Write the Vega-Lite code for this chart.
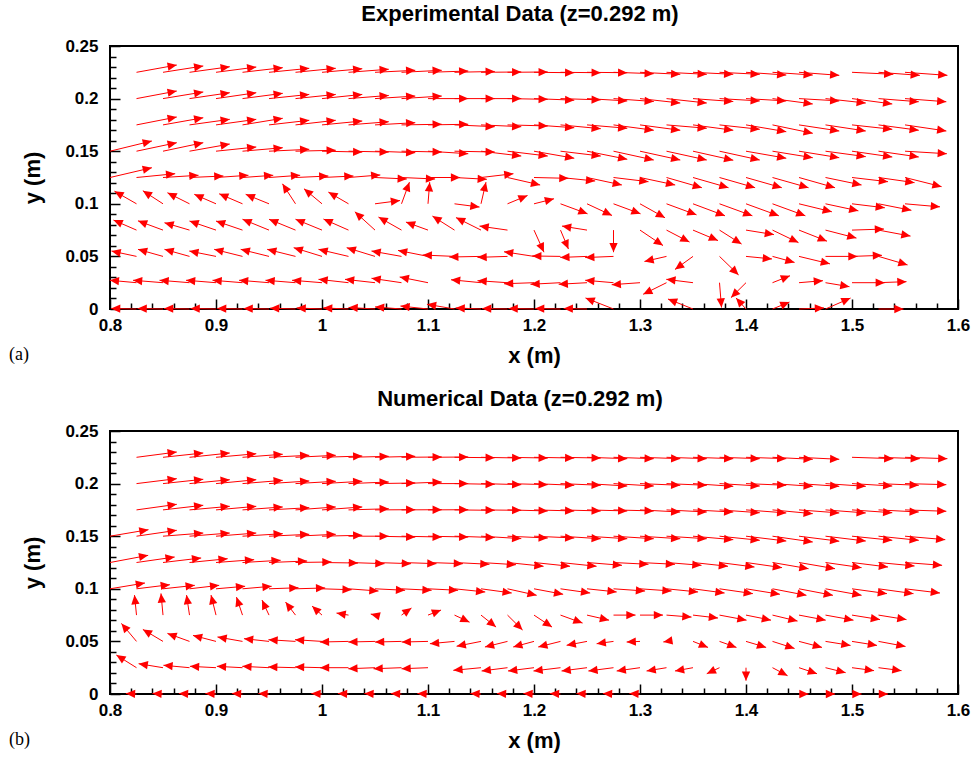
{
"$schema":"https://vega.github.io/schema/vega-lite/v6.json",
"background":"white",
"padding":{"left":8,"top":2,"right":8,"bottom":5},
"spacing":20,
"config":{
 "view":{"stroke":"black","strokeWidth":2},
 "axis":{"domain":false,"grid":false,"tickColor":"black","tickWidth":1.5,"labelFont":"Liberation Sans","labelFontWeight":"bold","labelFontSize":17,"labelColor":"black","titleFont":"Liberation Sans","titleFontWeight":"bold","titleFontSize":22,"titleColor":"black","labelFlush":false,"labelOverlap":false},
 "title":{"font":"Liberation Sans","fontWeight":"bold","fontSize":22,"color":"black"}
},
"datasets":{
"a":[
{"x":0.825,"y":0.225,"u":38,"v":6.9},{"x":0.85,"y":0.225,"u":38,"v":6},{"x":0.875,"y":0.225,"u":38,"v":5.3},{"x":0.9,"y":0.225,"u":38,"v":5},{"x":0.925,"y":0.225,"u":38,"v":4.4},{"x":0.95,"y":0.225,"u":38,"v":3.8},{"x":0.975,"y":0.225,"u":38,"v":3.8},{"x":1,"y":0.225,"u":38,"v":3.4},{"x":1.025,"y":0.225,"u":38,"v":2.9},{"x":1.05,"y":0.225,"u":38,"v":1.9},{"x":1.075,"y":0.225,"u":38,"v":1.9},{"x":1.1,"y":0.225,"u":38,"v":1.2},{"x":1.125,"y":0.225,"u":38,"v":0.8},{"x":1.15,"y":0.225,"u":38,"v":0.3},{"x":1.175,"y":0.225,"u":38,"v":0.3},{"x":1.2,"y":0.225,"u":38,"v":-0.4},{"x":1.225,"y":0.225,"u":38,"v":-0.4},{"x":1.25,"y":0.225,"u":38,"v":-0.4},{"x":1.275,"y":0.225,"u":38,"v":-1.3},{"x":1.3,"y":0.225,"u":38,"v":-1.9},{"x":1.325,"y":0.225,"u":38,"v":-1.9},{"x":1.35,"y":0.225,"u":38,"v":-1.9},{"x":1.375,"y":0.225,"u":38,"v":-1.9},{"x":1.4,"y":0.225,"u":38,"v":-2.6},{"x":1.425,"y":0.225,"u":38,"v":-2.6},{"x":1.45,"y":0.225,"u":38,"v":-2.9},{"x":1.5,"y":0.225,"u":39,"v":-1.9},{"x":1.525,"y":0.225,"u":39,"v":-2.9},{"x":1.55,"y":0.225,"u":40,"v":-2.9},
{"x":0.825,"y":0.2,"u":38,"v":7.2},{"x":0.85,"y":0.2,"u":38,"v":6.3},{"x":0.875,"y":0.2,"u":38,"v":5.6},{"x":0.9,"y":0.2,"u":38,"v":5.6},{"x":0.925,"y":0.2,"u":38,"v":5},{"x":0.95,"y":0.2,"u":38,"v":4},{"x":0.975,"y":0.2,"u":38,"v":4},{"x":1,"y":0.2,"u":38,"v":4},{"x":1.025,"y":0.2,"u":38,"v":3},{"x":1.05,"y":0.2,"u":38,"v":2.4},{"x":1.075,"y":0.2,"u":38,"v":2.4},{"x":1.1,"y":0.2,"u":38,"v":0},{"x":1.125,"y":0.2,"u":38,"v":0},{"x":1.15,"y":0.2,"u":38,"v":0},{"x":1.175,"y":0.2,"u":38,"v":-0.7},{"x":1.2,"y":0.2,"u":38,"v":-1.5},{"x":1.225,"y":0.2,"u":38,"v":-1.2},{"x":1.25,"y":0.2,"u":38,"v":-2.2},{"x":1.275,"y":0.2,"u":38,"v":-2.8},{"x":1.3,"y":0.2,"u":38,"v":-4.2},{"x":1.325,"y":0.2,"u":38,"v":-4.2},{"x":1.35,"y":0.2,"u":38,"v":-2.8},{"x":1.375,"y":0.2,"u":38,"v":-2.2},{"x":1.4,"y":0.2,"u":38,"v":-2.2},{"x":1.425,"y":0.2,"u":38,"v":-5.1},{"x":1.45,"y":0.2,"u":38,"v":-2.2},{"x":1.475,"y":0.2,"u":38,"v":-4.2},{"x":1.5,"y":0.2,"u":38,"v":-5.1},{"x":1.525,"y":0.2,"u":38,"v":-3},{"x":1.55,"y":0.2,"u":39,"v":-3},
{"x":0.825,"y":0.175,"u":38,"v":7.5},{"x":0.85,"y":0.175,"u":38,"v":6.8},{"x":0.875,"y":0.175,"u":38,"v":5.3},{"x":0.9,"y":0.175,"u":38,"v":5.3},{"x":0.925,"y":0.175,"u":38,"v":6.3},{"x":0.95,"y":0.175,"u":38,"v":4.4},{"x":0.975,"y":0.175,"u":38,"v":4.4},{"x":1,"y":0.175,"u":38,"v":3.7},{"x":1.025,"y":0.175,"u":38,"v":3},{"x":1.05,"y":0.175,"u":38,"v":2.1},{"x":1.075,"y":0.175,"u":38,"v":0.6},{"x":1.1,"y":0.175,"u":38,"v":0.6},{"x":1.125,"y":0.175,"u":38,"v":-1.7},{"x":1.15,"y":0.175,"u":38,"v":-1.7},{"x":1.175,"y":0.175,"u":38,"v":-1},{"x":1.2,"y":0.175,"u":38,"v":-2.7},{"x":1.225,"y":0.175,"u":38,"v":-3.6},{"x":1.25,"y":0.175,"u":38,"v":-3.2},{"x":1.275,"y":0.175,"u":38,"v":-5.1},{"x":1.3,"y":0.175,"u":38,"v":-5.1},{"x":1.325,"y":0.175,"u":38,"v":-3.2},{"x":1.35,"y":0.175,"u":38,"v":-5.1},{"x":1.375,"y":0.175,"u":38,"v":-4.2},{"x":1.4,"y":0.175,"u":38,"v":-6.5},{"x":1.425,"y":0.175,"u":38,"v":-8},{"x":1.45,"y":0.175,"u":38,"v":-5.8},{"x":1.475,"y":0.175,"u":38,"v":-5.8},{"x":1.5,"y":0.175,"u":38,"v":-4.2},{"x":1.525,"y":0.175,"u":38,"v":-5.1},{"x":1.55,"y":0.175,"u":39,"v":-5.8},
{"x":0.8,"y":0.15,"u":39.5,"v":9.7},{"x":0.825,"y":0.15,"u":38,"v":8.1},{"x":0.85,"y":0.15,"u":38,"v":8.1},{"x":0.875,"y":0.15,"u":38,"v":6.8},{"x":0.9,"y":0.15,"u":38,"v":4},{"x":0.925,"y":0.15,"u":38,"v":3.3},{"x":0.95,"y":0.15,"u":38,"v":1.8},{"x":0.975,"y":0.15,"u":38,"v":0.9},{"x":1,"y":0.15,"u":38,"v":-0.8},{"x":1.025,"y":0.15,"u":38,"v":-0.8},{"x":1.05,"y":0.15,"u":38,"v":-1.4},{"x":1.075,"y":0.15,"u":38,"v":-0.8},{"x":1.1,"y":0.15,"u":38,"v":-2.4},{"x":1.125,"y":0.15,"u":38,"v":-0.8},{"x":1.15,"y":0.15,"u":38,"v":-4.6},{"x":1.175,"y":0.15,"u":38,"v":-4.6},{"x":1.2,"y":0.15,"u":38,"v":-6.7},{"x":1.225,"y":0.15,"u":38,"v":-4.6},{"x":1.25,"y":0.15,"u":38,"v":-7.7},{"x":1.275,"y":0.15,"u":38,"v":-8.4},{"x":1.3,"y":0.15,"u":38,"v":-8.4},{"x":1.325,"y":0.15,"u":38,"v":-8.4},{"x":1.35,"y":0.15,"u":38,"v":-8.6},{"x":1.375,"y":0.15,"u":38,"v":-8.4},{"x":1.4,"y":0.15,"u":38,"v":-6.7},{"x":1.425,"y":0.15,"u":38,"v":-6.2},{"x":1.45,"y":0.15,"u":38,"v":-6.2},{"x":1.475,"y":0.15,"u":38,"v":-5.2},{"x":1.5,"y":0.15,"u":38,"v":-5.5},{"x":1.525,"y":0.15,"u":38,"v":-5.5},{"x":1.55,"y":0.15,"u":39.5,"v":-2.4},
{"x":0.8,"y":0.125,"u":39.5,"v":9.3},{"x":0.825,"y":0.125,"u":36.5,"v":3.6},{"x":0.85,"y":0.125,"u":33.5,"v":2.1},{"x":0.875,"y":0.125,"u":32,"v":1.4},{"x":0.9,"y":0.125,"u":30.6,"v":2.1},{"x":0.925,"y":0.125,"u":29,"v":2.1},{"x":0.95,"y":0.125,"u":29.4,"v":2.1},{"x":0.975,"y":0.125,"u":31,"v":1.4},{"x":1,"y":0.125,"u":29.7,"v":1.4},{"x":1.025,"y":0.125,"u":30,"v":2.4},{"x":1.05,"y":0.125,"u":30,"v":-1.4},{"x":1.075,"y":0.125,"u":31.7,"v":-1.4},{"x":1.1,"y":0.125,"u":30.3,"v":0},{"x":1.125,"y":0.125,"u":30.5,"v":-1.7},{"x":1.15,"y":0.125,"u":30.6,"v":3.6},{"x":1.175,"y":0.125,"u":30.8,"v":-7.1},{"x":1.2,"y":0.125,"u":32.5,"v":-0.8},{"x":1.225,"y":0.125,"u":32.7,"v":-3.3},{"x":1.25,"y":0.125,"u":32.9,"v":-7.1},{"x":1.275,"y":0.125,"u":33,"v":-4},{"x":1.3,"y":0.125,"u":33.2,"v":-7.1},{"x":1.325,"y":0.125,"u":33.4,"v":-9.7},{"x":1.35,"y":0.125,"u":33.5,"v":-9.7},{"x":1.375,"y":0.125,"u":33.6,"v":-9.7},{"x":1.4,"y":0.125,"u":33.8,"v":-9.7},{"x":1.425,"y":0.125,"u":34,"v":-9.7},{"x":1.45,"y":0.125,"u":34,"v":-9.7},{"x":1.475,"y":0.125,"u":34,"v":-7.1},{"x":1.5,"y":0.125,"u":34,"v":-4},{"x":1.525,"y":0.125,"u":34,"v":-4.9},{"x":1.55,"y":0.125,"u":34.5,"v":-8.7},
{"x":0.825,"y":0.1,"u":-20.8,"v":12},{"x":0.85,"y":0.1,"u":-19,"v":12.4},{"x":0.875,"y":0.1,"u":-20.8,"v":10.5},{"x":0.9,"y":0.1,"u":-20.5,"v":9},{"x":0.925,"y":0.1,"u":-22,"v":9.5},{"x":0.95,"y":0.1,"u":-22,"v":9},{"x":0.975,"y":0.1,"u":-12.3,"v":19},{"x":1,"y":0.1,"u":-17,"v":14.3},{"x":1.025,"y":0.1,"u":-19,"v":11.1},{"x":1.05,"y":0.1,"u":23.6,"v":3.1},{"x":1.075,"y":0.1,"u":7.5,"v":20.6},{"x":1.1,"y":0.1,"u":1.6,"v":20.6},{"x":1.125,"y":0.1,"u":23.6,"v":-3.1},{"x":1.15,"y":0.1,"u":4.7,"v":20.6},{"x":1.175,"y":0.1,"u":18.9,"v":7.9},{"x":1.2,"y":0.1,"u":18.9,"v":4.8},{"x":1.225,"y":0.1,"u":25.5,"v":-9.5},{"x":1.25,"y":0.1,"u":23.6,"v":-11.1},{"x":1.275,"y":0.1,"u":25.5,"v":-9.5},{"x":1.3,"y":0.1,"u":23.6,"v":-13.3},{"x":1.325,"y":0.1,"u":28.3,"v":-10.5},{"x":1.35,"y":0.1,"u":30.2,"v":-11.4},{"x":1.375,"y":0.1,"u":31,"v":-11.4},{"x":1.4,"y":0.1,"u":31,"v":-11.4},{"x":1.425,"y":0.1,"u":31,"v":-11.4},{"x":1.45,"y":0.1,"u":31,"v":-7.6},{"x":1.475,"y":0.1,"u":31,"v":-6.7},{"x":1.5,"y":0.1,"u":31,"v":-3.8},{"x":1.525,"y":0.1,"u":31,"v":-6.2},{"x":1.55,"y":0.1,"u":33,"v":-2.9},
{"x":0.825,"y":0.075,"u":-21.7,"v":9.5},{"x":0.85,"y":0.075,"u":-23.6,"v":8.8},{"x":0.875,"y":0.075,"u":-23.6,"v":7},{"x":0.9,"y":0.075,"u":-25,"v":8.6},{"x":0.925,"y":0.075,"u":-25,"v":8.6},{"x":0.95,"y":0.075,"u":-25,"v":10.3},{"x":0.975,"y":0.075,"u":-25,"v":10.3},{"x":1,"y":0.075,"u":-25,"v":10.3},{"x":1.025,"y":0.075,"u":-23.6,"v":10.5},{"x":1.05,"y":0.075,"u":-19,"v":17.4},{"x":1.075,"y":0.075,"u":-21.7,"v":12.4},{"x":1.1,"y":0.075,"u":-20.8,"v":7.6},{"x":1.125,"y":0.075,"u":-20.8,"v":13.3},{"x":1.15,"y":0.075,"u":-23.6,"v":11.9},{"x":1.175,"y":0.075,"u":-26.4,"v":3.8},{"x":1.2,"y":0.075,"u":9.4,"v":-21},{"x":1.225,"y":0.075,"u":7.5,"v":-18},{"x":1.25,"y":0.075,"u":-23.6,"v":3.8},{"x":1.275,"y":0.075,"u":0,"v":-21},{"x":1.3,"y":0.075,"u":21.7,"v":-14.7},{"x":1.325,"y":0.075,"u":21.7,"v":-11.4},{"x":1.35,"y":0.075,"u":23.6,"v":-10},{"x":1.375,"y":0.075,"u":20.8,"v":-13.3},{"x":1.4,"y":0.075,"u":26.4,"v":-4.3},{"x":1.425,"y":0.075,"u":24.5,"v":-11.9},{"x":1.45,"y":0.075,"u":26.4,"v":-10.5},{"x":1.475,"y":0.075,"u":29.2,"v":-7.6},{"x":1.5,"y":0.075,"u":30.2,"v":1},{"x":1.525,"y":0.075,"u":30.2,"v":-5.7},
{"x":0.825,"y":0.05,"u":-23.6,"v":5.1},{"x":0.85,"y":0.05,"u":-23.6,"v":6.7},{"x":0.875,"y":0.05,"u":-23.6,"v":6.7},{"x":0.9,"y":0.05,"u":-25.2,"v":5.1},{"x":0.925,"y":0.05,"u":-26.7,"v":6.7},{"x":0.95,"y":0.05,"u":-26.7,"v":6.7},{"x":0.975,"y":0.05,"u":-26.7,"v":6.7},{"x":1,"y":0.05,"u":-26.7,"v":8.3},{"x":1.025,"y":0.05,"u":-28.3,"v":6.7},{"x":1.05,"y":0.05,"u":-26.7,"v":8.3},{"x":1.075,"y":0.05,"u":-28.3,"v":5.1},{"x":1.1,"y":0.05,"u":-28.3,"v":5.7},{"x":1.125,"y":0.05,"u":-30,"v":1.3},{"x":1.15,"y":0.05,"u":-30,"v":-0.6},{"x":1.175,"y":0.05,"u":-28.3,"v":-0.9},{"x":1.2,"y":0.05,"u":-28.3,"v":4.4},{"x":1.225,"y":0.05,"u":-26.7,"v":0.4},{"x":1.25,"y":0.05,"u":-25.2,"v":-1},{"x":1.275,"y":0.05,"u":-26.7,"v":-1.1},{"x":1.325,"y":0.05,"u":-20.8,"v":-4.8},{"x":1.35,"y":0.05,"u":-17,"v":-12.4},{"x":1.375,"y":0.05,"u":18,"v":-17.6},{"x":1.4,"y":0.05,"u":24.5,"v":-2.4},{"x":1.425,"y":0.05,"u":20.8,"v":-5.7},{"x":1.45,"y":0.05,"u":29.2,"v":-7.1},{"x":1.475,"y":0.05,"u":30.2,"v":0},{"x":1.5,"y":0.05,"u":28.3,"v":1},{"x":1.525,"y":0.05,"u":27.4,"v":-8.1},
{"x":0.825,"y":0.025,"u":-25.2,"v":2.3},{"x":0.85,"y":0.025,"u":-28.3,"v":2.3},{"x":0.875,"y":0.025,"u":-28.3,"v":2.3},{"x":0.9,"y":0.025,"u":-28.3,"v":2.3},{"x":0.925,"y":0.025,"u":-28.3,"v":2.3},{"x":0.95,"y":0.025,"u":-28.3,"v":2.3},{"x":0.975,"y":0.025,"u":-28.3,"v":2.3},{"x":1,"y":0.025,"u":-28.3,"v":2.3},{"x":1.025,"y":0.025,"u":-28.3,"v":3.2},{"x":1.05,"y":0.025,"u":-28.3,"v":3.2},{"x":1.075,"y":0.025,"u":-28.3,"v":4.2},{"x":1.1,"y":0.025,"u":-26.7,"v":5.4},{"x":1.15,"y":0.025,"u":-28.3,"v":2.8},{"x":1.175,"y":0.025,"u":-28.3,"v":1.9},{"x":1.2,"y":0.025,"u":-28.3,"v":-1},{"x":1.225,"y":0.025,"u":-28.3,"v":-1.5},{"x":1.25,"y":0.025,"u":-26.7,"v":-1.5},{"x":1.275,"y":0.025,"u":-26.7,"v":2.3},{"x":1.3,"y":0.025,"u":-26.7,"v":-1.9},{"x":1.325,"y":0.025,"u":-22,"v":-11},{"x":1.35,"y":0.025,"u":-25.2,"v":3.2},{"x":1.375,"y":0.025,"u":1.9,"v":-23.6},{"x":1.4,"y":0.025,"u":-14.2,"v":-14.2},{"x":1.425,"y":0.025,"u":16.5,"v":6.6},{"x":1.45,"y":0.025,"u":22.6,"v":1.9},{"x":1.475,"y":0.025,"u":22.6,"v":-3.8},{"x":1.5,"y":0.025,"u":31,"v":0},{"x":1.525,"y":0.025,"u":26.4,"v":1},
{"x":0.825,"y":0,"u":-24,"v":0.5},{"x":0.85,"y":0,"u":-24,"v":0.5},{"x":0.875,"y":0,"u":-24,"v":0.5},{"x":0.9,"y":0,"u":-24,"v":0.5},{"x":0.925,"y":0,"u":-24,"v":0.5},{"x":0.95,"y":0,"u":-24,"v":0.5},{"x":0.975,"y":0,"u":-24,"v":0.8},{"x":1,"y":0,"u":-24,"v":1},{"x":1.025,"y":0,"u":-24,"v":1},{"x":1.05,"y":0,"u":-25,"v":1.5},{"x":1.075,"y":0,"u":-25,"v":2},{"x":1.1,"y":0,"u":-26,"v":2.8},{"x":1.125,"y":0,"u":-26,"v":4.5},{"x":1.15,"y":0,"u":-24,"v":1},{"x":1.175,"y":0,"u":-24,"v":0.5},{"x":1.2,"y":0,"u":-24,"v":0.5},{"x":1.225,"y":0,"u":-24,"v":0.5},{"x":1.25,"y":0,"u":-22,"v":0.5},{"x":1.275,"y":0,"u":-26.4,"v":10.5},{"x":1.35,"y":0,"u":-23.6,"v":9.5},{"x":1.4,"y":0,"u":-9.4,"v":10.5},{"x":1.425,"y":0,"u":16,"v":6.6},{"x":1.45,"y":0,"u":23.6,"v":1},{"x":1.475,"y":0,"u":23.6,"v":10.4},{"x":1.525,"y":0,"u":23.6,"v":0}
],
"b":[
{"x":0.825,"y":0.225,"u":38,"v":5},{"x":0.85,"y":0.225,"u":38,"v":4.1},{"x":0.875,"y":0.225,"u":38,"v":4.1},{"x":0.9,"y":0.225,"u":38,"v":3.4},{"x":0.925,"y":0.225,"u":38,"v":2.9},{"x":0.95,"y":0.225,"u":38,"v":1.9},{"x":0.975,"y":0.225,"u":38,"v":1.9},{"x":1,"y":0.225,"u":38,"v":1.2},{"x":1.025,"y":0.225,"u":38,"v":0.9},{"x":1.05,"y":0.225,"u":38,"v":0.9},{"x":1.075,"y":0.225,"u":38,"v":0.3},{"x":1.1,"y":0.225,"u":38,"v":0.3},{"x":1.125,"y":0.225,"u":38,"v":-0.4},{"x":1.15,"y":0.225,"u":38,"v":-0.7},{"x":1.175,"y":0.225,"u":38,"v":-0.7},{"x":1.2,"y":0.225,"u":38,"v":-0.7},{"x":1.225,"y":0.225,"u":38,"v":-0.7},{"x":1.25,"y":0.225,"u":38,"v":-1.3},{"x":1.275,"y":0.225,"u":38,"v":-1.3},{"x":1.3,"y":0.225,"u":38,"v":-1.3},{"x":1.325,"y":0.225,"u":38,"v":-1.3},{"x":1.35,"y":0.225,"u":38,"v":-1.3},{"x":1.375,"y":0.225,"u":38,"v":-1.3},{"x":1.4,"y":0.225,"u":38,"v":-1.3},{"x":1.425,"y":0.225,"u":38,"v":-1.9},{"x":1.45,"y":0.225,"u":38,"v":-1.9},{"x":1.5,"y":0.225,"u":39,"v":-1.3},{"x":1.525,"y":0.225,"u":39,"v":-1.3},{"x":1.55,"y":0.225,"u":40,"v":-1.3},
{"x":0.825,"y":0.2,"u":38,"v":4.7},{"x":0.85,"y":0.2,"u":38,"v":4.1},{"x":0.875,"y":0.2,"u":38,"v":3.7},{"x":0.9,"y":0.2,"u":38,"v":3.7},{"x":0.925,"y":0.2,"u":38,"v":3.1},{"x":0.95,"y":0.2,"u":38,"v":2.5},{"x":0.975,"y":0.2,"u":38,"v":2.2},{"x":1,"y":0.2,"u":38,"v":2.2},{"x":1.025,"y":0.2,"u":38,"v":1.5},{"x":1.05,"y":0.2,"u":38,"v":0.6},{"x":1.075,"y":0.2,"u":38,"v":1.5},{"x":1.1,"y":0.2,"u":38,"v":0},{"x":1.125,"y":0.2,"u":38,"v":-0.7},{"x":1.15,"y":0.2,"u":38,"v":-1},{"x":1.175,"y":0.2,"u":38,"v":-1},{"x":1.2,"y":0.2,"u":38,"v":-1.6},{"x":1.225,"y":0.2,"u":38,"v":-1.6},{"x":1.25,"y":0.2,"u":38,"v":-2.3},{"x":1.275,"y":0.2,"u":38,"v":-2.3},{"x":1.3,"y":0.2,"u":38,"v":-1.6},{"x":1.325,"y":0.2,"u":38,"v":-1.6},{"x":1.35,"y":0.2,"u":38,"v":-2.6},{"x":1.375,"y":0.2,"u":38,"v":-2.3},{"x":1.4,"y":0.2,"u":38,"v":-1.6},{"x":1.425,"y":0.2,"u":38,"v":-2.6},{"x":1.45,"y":0.2,"u":38,"v":-2.6},{"x":1.475,"y":0.2,"u":38,"v":-2.6},{"x":1.5,"y":0.2,"u":38,"v":-2.3},{"x":1.525,"y":0.2,"u":38,"v":-1.6},{"x":1.55,"y":0.2,"u":39,"v":-1},
{"x":0.825,"y":0.175,"u":38,"v":5.3},{"x":0.85,"y":0.175,"u":38,"v":4.4},{"x":0.875,"y":0.175,"u":38,"v":3.4},{"x":0.9,"y":0.175,"u":38,"v":3.4},{"x":0.925,"y":0.175,"u":38,"v":2.8},{"x":0.95,"y":0.175,"u":38,"v":2.1},{"x":0.975,"y":0.175,"u":38,"v":2.8},{"x":1,"y":0.175,"u":38,"v":2.8},{"x":1.025,"y":0.175,"u":38,"v":1.1},{"x":1.05,"y":0.175,"u":38,"v":0.2},{"x":1.075,"y":0.175,"u":38,"v":0.2},{"x":1.1,"y":0.175,"u":38,"v":0.2},{"x":1.125,"y":0.175,"u":38,"v":-0.4},{"x":1.15,"y":0.175,"u":38,"v":-0.4},{"x":1.175,"y":0.175,"u":38,"v":-1},{"x":1.2,"y":0.175,"u":38,"v":-1},{"x":1.225,"y":0.175,"u":38,"v":-1},{"x":1.25,"y":0.175,"u":38,"v":-1},{"x":1.275,"y":0.175,"u":38,"v":-1},{"x":1.3,"y":0.175,"u":38,"v":-2},{"x":1.325,"y":0.175,"u":38,"v":-2},{"x":1.35,"y":0.175,"u":38,"v":-2},{"x":1.375,"y":0.175,"u":38,"v":-2.7},{"x":1.4,"y":0.175,"u":38,"v":-2.9},{"x":1.425,"y":0.175,"u":38,"v":-3.6},{"x":1.45,"y":0.175,"u":38,"v":-2.9},{"x":1.475,"y":0.175,"u":38,"v":-2.9},{"x":1.5,"y":0.175,"u":38,"v":-2.7},{"x":1.525,"y":0.175,"u":38,"v":-2},{"x":1.55,"y":0.175,"u":39,"v":-1.3},
{"x":0.8,"y":0.15,"u":36.3,"v":6.2},{"x":0.825,"y":0.15,"u":38,"v":5.6},{"x":0.85,"y":0.15,"u":38,"v":3},{"x":0.875,"y":0.15,"u":38,"v":3},{"x":0.9,"y":0.15,"u":38,"v":3},{"x":0.925,"y":0.15,"u":38,"v":2.4},{"x":0.95,"y":0.15,"u":38,"v":1.8},{"x":0.975,"y":0.15,"u":38,"v":1.8},{"x":1,"y":0.15,"u":38,"v":0.9},{"x":1.025,"y":0.15,"u":38,"v":0},{"x":1.05,"y":0.15,"u":38,"v":-0.8},{"x":1.075,"y":0.15,"u":38,"v":-0.8},{"x":1.1,"y":0.15,"u":38,"v":-0.8},{"x":1.125,"y":0.15,"u":38,"v":-1.3},{"x":1.15,"y":0.15,"u":38,"v":-2.3},{"x":1.175,"y":0.15,"u":38,"v":-1.7},{"x":1.2,"y":0.15,"u":38,"v":-1.7},{"x":1.225,"y":0.15,"u":38,"v":-2.4},{"x":1.25,"y":0.15,"u":38,"v":-2.4},{"x":1.275,"y":0.15,"u":38,"v":-2.4},{"x":1.3,"y":0.15,"u":38,"v":-2.4},{"x":1.325,"y":0.15,"u":38,"v":-2.4},{"x":1.35,"y":0.15,"u":38,"v":-3.3},{"x":1.375,"y":0.15,"u":38,"v":-3.9},{"x":1.4,"y":0.15,"u":38,"v":-4.6},{"x":1.425,"y":0.15,"u":38,"v":-5.5},{"x":1.45,"y":0.15,"u":38,"v":-4.8},{"x":1.475,"y":0.15,"u":38,"v":-4.6},{"x":1.5,"y":0.15,"u":38,"v":-3.9},{"x":1.525,"y":0.15,"u":38,"v":-3.9},{"x":1.55,"y":0.15,"u":38,"v":-3.3},
{"x":0.8,"y":0.125,"u":36,"v":6.8},{"x":0.825,"y":0.125,"u":36,"v":5.2},{"x":0.85,"y":0.125,"u":36,"v":4.3},{"x":0.875,"y":0.125,"u":36,"v":3.6},{"x":0.9,"y":0.125,"u":36,"v":2.7},{"x":0.925,"y":0.125,"u":36,"v":2.1},{"x":0.95,"y":0.125,"u":36,"v":1.4},{"x":0.975,"y":0.125,"u":34,"v":0.5},{"x":1,"y":0.125,"u":34,"v":-0.5},{"x":1.025,"y":0.125,"u":34,"v":-1.1},{"x":1.05,"y":0.125,"u":34,"v":-1.1},{"x":1.075,"y":0.125,"u":33,"v":-1.1},{"x":1.1,"y":0.125,"u":33,"v":-1.1},{"x":1.125,"y":0.125,"u":33,"v":-1.7},{"x":1.15,"y":0.125,"u":33,"v":-2.1},{"x":1.175,"y":0.125,"u":34,"v":-3.6},{"x":1.2,"y":0.125,"u":34,"v":-3.6},{"x":1.225,"y":0.125,"u":34,"v":-3.6},{"x":1.25,"y":0.125,"u":33,"v":-2.7},{"x":1.275,"y":0.125,"u":33,"v":-1.7},{"x":1.3,"y":0.125,"u":33,"v":-1.7},{"x":1.325,"y":0.125,"u":33,"v":-2.7},{"x":1.35,"y":0.125,"u":33,"v":-3.6},{"x":1.375,"y":0.125,"u":33,"v":-4.3},{"x":1.4,"y":0.125,"u":34,"v":-4.9},{"x":1.425,"y":0.125,"u":34,"v":-5.9},{"x":1.45,"y":0.125,"u":34,"v":-5.9},{"x":1.475,"y":0.125,"u":34,"v":-4.9},{"x":1.5,"y":0.125,"u":34,"v":-4.3},{"x":1.525,"y":0.125,"u":34,"v":-3.3},{"x":1.55,"y":0.125,"u":35,"v":-2.7},
{"x":0.8,"y":0.1,"u":33,"v":5.5},{"x":0.825,"y":0.1,"u":31.5,"v":3.9},{"x":0.85,"y":0.1,"u":30,"v":3.3},{"x":0.875,"y":0.1,"u":28,"v":3.3},{"x":0.9,"y":0.1,"u":27.5,"v":2.4},{"x":0.925,"y":0.1,"u":27.5,"v":2.4},{"x":0.95,"y":0.1,"u":27.8,"v":1},{"x":0.975,"y":0.1,"u":28,"v":0.8},{"x":1,"y":0.1,"u":28,"v":-0.9},{"x":1.025,"y":0.1,"u":28.3,"v":-2.1},{"x":1.05,"y":0.1,"u":28.4,"v":-1.4},{"x":1.075,"y":0.1,"u":28.4,"v":-1.4},{"x":1.1,"y":0.1,"u":28.4,"v":-1.4},{"x":1.125,"y":0.1,"u":29,"v":-3},{"x":1.15,"y":0.1,"u":29,"v":-4},{"x":1.175,"y":0.1,"u":27.5,"v":-6.2},{"x":1.2,"y":0.1,"u":27.5,"v":-5.2},{"x":1.225,"y":0.1,"u":28,"v":-4},{"x":1.25,"y":0.1,"u":28,"v":-3},{"x":1.275,"y":0.1,"u":29.8,"v":-2.1},{"x":1.3,"y":0.1,"u":29.8,"v":-2.1},{"x":1.325,"y":0.1,"u":29.8,"v":-3},{"x":1.35,"y":0.1,"u":29.8,"v":-4},{"x":1.375,"y":0.1,"u":31.5,"v":-4.6},{"x":1.4,"y":0.1,"u":32,"v":-5.2},{"x":1.425,"y":0.1,"u":32,"v":-6.2},{"x":1.45,"y":0.1,"u":32,"v":-6.2},{"x":1.475,"y":0.1,"u":34,"v":-6.2},{"x":1.5,"y":0.1,"u":33,"v":-4.6},{"x":1.525,"y":0.1,"u":33,"v":-4.6},{"x":1.55,"y":0.1,"u":33,"v":-4},
{"x":0.825,"y":0.075,"u":-1.9,"v":19},{"x":0.85,"y":0.075,"u":-1.9,"v":20.6},{"x":0.875,"y":0.075,"u":-2.8,"v":19},{"x":0.9,"y":0.075,"u":-4.7,"v":19},{"x":0.925,"y":0.075,"u":-5.7,"v":17.1},{"x":0.95,"y":0.075,"u":-6.6,"v":14.3},{"x":0.975,"y":0.075,"u":-9.4,"v":12.4},{"x":1,"y":0.075,"u":-9.4,"v":8.6},{"x":1.025,"y":0.075,"u":-11.3,"v":1.9},{"x":1.05,"y":0.075,"u":-4,"v":1},{"x":1.075,"y":0.075,"u":9.4,"v":6.7},{"x":1.1,"y":0.075,"u":12.3,"v":4.8},{"x":1.125,"y":0.075,"u":14.2,"v":-6.7},{"x":1.15,"y":0.075,"u":14.2,"v":-11.4},{"x":1.175,"y":0.075,"u":14.2,"v":-14.2},{"x":1.2,"y":0.075,"u":17,"v":-11.4},{"x":1.225,"y":0.075,"u":20.8,"v":-7.6},{"x":1.25,"y":0.075,"u":20.8,"v":-4.8},{"x":1.275,"y":0.075,"u":20.8,"v":0},{"x":1.3,"y":0.075,"u":21.7,"v":0},{"x":1.325,"y":0.075,"u":23.6,"v":-1.9},{"x":1.35,"y":0.075,"u":23.6,"v":-2.8},{"x":1.375,"y":0.075,"u":25.5,"v":-4.8},{"x":1.4,"y":0.075,"u":23.6,"v":-4.8},{"x":1.425,"y":0.075,"u":23.6,"v":-5.7},{"x":1.45,"y":0.075,"u":25.2,"v":-4.8},{"x":1.475,"y":0.075,"u":26.4,"v":-4.8},{"x":1.5,"y":0.075,"u":26.4,"v":-4.3},{"x":1.525,"y":0.075,"u":26.4,"v":-4.3},
{"x":0.825,"y":0.05,"u":-14.2,"v":17.1},{"x":0.85,"y":0.05,"u":-19,"v":11.4},{"x":0.875,"y":0.05,"u":-20.8,"v":7.6},{"x":0.9,"y":0.05,"u":-21.7,"v":5.7},{"x":0.925,"y":0.05,"u":-23.6,"v":4.2},{"x":0.95,"y":0.05,"u":-23.6,"v":2.6},{"x":0.975,"y":0.05,"u":-25.5,"v":1.6},{"x":1,"y":0.05,"u":-25.5,"v":1.6},{"x":1.025,"y":0.05,"u":-27,"v":-0.6},{"x":1.05,"y":0.05,"u":-25.2,"v":-0.6},{"x":1.075,"y":0.05,"u":-25,"v":-0.6},{"x":1.1,"y":0.05,"u":-24.8,"v":-0.6},{"x":1.125,"y":0.05,"u":-23.2,"v":-2.2},{"x":1.15,"y":0.05,"u":-23,"v":-4.6},{"x":1.175,"y":0.05,"u":-21.3,"v":-5.3},{"x":1.2,"y":0.05,"u":-19.6,"v":-5.3},{"x":1.225,"y":0.05,"u":-21,"v":-5.3},{"x":1.25,"y":0.05,"u":-19.2,"v":-3.7},{"x":1.275,"y":0.05,"u":-15.9,"v":-2.2},{"x":1.3,"y":0.05,"u":-12.6,"v":-0.6},{"x":1.325,"y":0.05,"u":-3,"v":-0.5},{"x":1.35,"y":0.05,"u":14.2,"v":-5.7},{"x":1.375,"y":0.05,"u":16,"v":-5.7},{"x":1.4,"y":0.05,"u":19,"v":-5.7},{"x":1.425,"y":0.05,"u":20.8,"v":-6.7},{"x":1.45,"y":0.05,"u":21.7,"v":-5.7},{"x":1.475,"y":0.05,"u":23.6,"v":-3.8},{"x":1.5,"y":0.05,"u":23.6,"v":-3.8},{"x":1.525,"y":0.05,"u":25.5,"v":-4.8},
{"x":0.825,"y":0.025,"u":-19,"v":12},{"x":0.85,"y":0.025,"u":-23,"v":3.8},{"x":0.875,"y":0.025,"u":-24.6,"v":2.3},{"x":0.9,"y":0.025,"u":-24.6,"v":1.3},{"x":0.925,"y":0.025,"u":-24.2,"v":1.3},{"x":0.95,"y":0.025,"u":-25.2,"v":1.3},{"x":0.975,"y":0.025,"u":-25.8,"v":0.7},{"x":1,"y":0.025,"u":-25.5,"v":0.7},{"x":1.025,"y":0.025,"u":-26.9,"v":0},{"x":1.05,"y":0.025,"u":-25.2,"v":-1},{"x":1.075,"y":0.025,"u":-26.4,"v":-1},{"x":1.1,"y":0.025,"u":-25,"v":-1},{"x":1.15,"y":0.025,"u":-26.1,"v":-2.5},{"x":1.175,"y":0.025,"u":-24.4,"v":-3.1},{"x":1.2,"y":0.025,"u":-24.5,"v":-3.1},{"x":1.225,"y":0.025,"u":-25.5,"v":-3.1},{"x":1.25,"y":0.025,"u":-24,"v":-3.1},{"x":1.275,"y":0.025,"u":-23.7,"v":-3.1},{"x":1.3,"y":0.025,"u":-22,"v":-3.1},{"x":1.325,"y":0.025,"u":-18.8,"v":-3.1},{"x":1.35,"y":0.025,"u":-17,"v":-3.1},{"x":1.375,"y":0.025,"u":-12,"v":-5.7},{"x":1.4,"y":0.025,"u":0,"v":-12.3},{"x":1.425,"y":0.025,"u":14.2,"v":-7.6},{"x":1.45,"y":0.025,"u":17,"v":-5.7},{"x":1.475,"y":0.025,"u":19,"v":-4.7},{"x":1.5,"y":0.025,"u":20.8,"v":-2.8},{"x":1.525,"y":0.025,"u":21.7,"v":-2.8},
{"x":0.825,"y":0,"u":-10,"v":0.5},{"x":0.85,"y":0,"u":-10,"v":0.5},{"x":0.875,"y":0,"u":-10,"v":0.5},{"x":0.9,"y":0,"u":-10,"v":0.5},{"x":0.925,"y":0,"u":-10,"v":0.5},{"x":0.95,"y":0,"u":-10,"v":0.5},{"x":1,"y":0,"u":-10,"v":0.5},{"x":1.025,"y":0,"u":-10,"v":0.5},{"x":1.05,"y":0,"u":-10,"v":0.5},{"x":1.075,"y":0,"u":-10,"v":0.5},{"x":1.1,"y":0,"u":-10,"v":0.5},{"x":1.15,"y":0,"u":-10,"v":0.5},{"x":1.175,"y":0,"u":-10,"v":0.5},{"x":1.2,"y":0,"u":-10,"v":0.5},{"x":1.225,"y":0,"u":-10,"v":0.5},{"x":1.25,"y":0,"u":-10,"v":0.5},{"x":1.275,"y":0,"u":-10,"v":0.5},{"x":1.3,"y":0,"u":-10,"v":0.5},{"x":1.45,"y":0,"u":9,"v":0},{"x":1.475,"y":0,"u":9,"v":0},{"x":1.5,"y":0,"u":9,"v":0},{"x":1.525,"y":0,"u":9,"v":0}
]
},
"vconcat":[
{"title":{"text":"(a)","orient":"bottom","anchor":"start","frame":"bounds","font":"Liberation Serif","fontSize":18,"fontWeight":"normal","offset":-21,"dx":-12},
 "vconcat":[{
 "title":{"text":"Experimental Data (z=0.292 m)","offset":11,"dx":-14},
 "width":848,"height":263,
 "data":{"name":"a"},
 "transform":[{"calculate":"datum.x+datum.u/1000","as":"xe"},{"calculate":"datum.y+datum.v/1000","as":"ye"},{"calculate":"atan2(-datum.v*1052,datum.u*1060)*180/PI","as":"ang"}],
 "resolve":{"axis":{"x":"independent","y":"independent"}},
 "layer":[
  {"mark":{"type":"rule","color":"#ff0000","strokeWidth":1},
   "encoding":{
    "x":{"field":"x","type":"quantitative","scale":{"domain":[0.8,1.6],"nice":false,"zero":false},"axis":{"orient":"bottom","values":[0.8,0.9,1,1.1,1.2,1.3,1.4,1.5,1.6],"format":"~g","tickSize":-10,"labelPadding":18,"title":"x (m)","titlePadding":12}},
    "x2":{"field":"xe"},
    "y":{"field":"y","type":"quantitative","scale":{"domain":[0,0.25],"nice":false,"zero":false},"axis":{"orient":"left","values":[0,0.05,0.1,0.15,0.2,0.25],"format":"~g","tickSize":-10,"labelPadding":22,"title":"y (m)","titlePadding":20}},
    "y2":{"field":"ye"}}},
  {"mark":{"type":"point","shape":"M-1,-0.45L0,0L-1,0.45Z","filled":true,"color":"#ff0000","opacity":1,"size":340,"strokeWidth":0},
   "encoding":{
    "x":{"field":"xe","type":"quantitative","axis":{"orient":"bottom","values":[0.82,0.84,0.86,0.88,0.92,0.94,0.96,0.98,1.02,1.04,1.06,1.08,1.12,1.14,1.16,1.18,1.22,1.24,1.26,1.28,1.32,1.34,1.36,1.38,1.42,1.44,1.46,1.48,1.52,1.54,1.56,1.58],"tickSize":-6,"labels":false,"title":null}},
    "y":{"field":"ye","type":"quantitative","axis":{"orient":"left","values":[0.01,0.02,0.03,0.04,0.06,0.07,0.08,0.09,0.11,0.12,0.13,0.14,0.16,0.17,0.18,0.19,0.21,0.22,0.23,0.24],"tickSize":-6,"labels":false,"title":null}},
    "angle":{"field":"ang","type":"quantitative","scale":null}}}
 ]}]},
{"title":{"text":"(b)","orient":"bottom","anchor":"start","frame":"bounds","font":"Liberation Serif","fontSize":18,"fontWeight":"normal","offset":-21,"dx":-12},
 "vconcat":[{
 "title":{"text":"Numerical Data (z=0.292 m)","offset":11,"dx":-14},
 "width":848,"height":263,
 "data":{"name":"b"},
 "transform":[{"calculate":"datum.x+datum.u/1000","as":"xe"},{"calculate":"datum.y+datum.v/1000","as":"ye"},{"calculate":"atan2(-datum.v*1052,datum.u*1060)*180/PI","as":"ang"}],
 "resolve":{"axis":{"x":"independent","y":"independent"}},
 "layer":[
  {"mark":{"type":"rule","color":"#ff0000","strokeWidth":1},
   "encoding":{
    "x":{"field":"x","type":"quantitative","scale":{"domain":[0.8,1.6],"nice":false,"zero":false},"axis":{"orient":"bottom","values":[0.8,0.9,1,1.1,1.2,1.3,1.4,1.5,1.6],"format":"~g","tickSize":-10,"labelPadding":18,"title":"x (m)","titlePadding":12}},
    "x2":{"field":"xe"},
    "y":{"field":"y","type":"quantitative","scale":{"domain":[0,0.25],"nice":false,"zero":false},"axis":{"orient":"left","values":[0,0.05,0.1,0.15,0.2,0.25],"format":"~g","tickSize":-10,"labelPadding":22,"title":"y (m)","titlePadding":20}},
    "y2":{"field":"ye"}}},
  {"mark":{"type":"point","shape":"M-1,-0.45L0,0L-1,0.45Z","filled":true,"color":"#ff0000","opacity":1,"size":340,"strokeWidth":0},
   "encoding":{
    "x":{"field":"xe","type":"quantitative","axis":{"orient":"bottom","values":[0.82,0.84,0.86,0.88,0.92,0.94,0.96,0.98,1.02,1.04,1.06,1.08,1.12,1.14,1.16,1.18,1.22,1.24,1.26,1.28,1.32,1.34,1.36,1.38,1.42,1.44,1.46,1.48,1.52,1.54,1.56,1.58],"tickSize":-6,"labels":false,"title":null}},
    "y":{"field":"ye","type":"quantitative","axis":{"orient":"left","values":[0.01,0.02,0.03,0.04,0.06,0.07,0.08,0.09,0.11,0.12,0.13,0.14,0.16,0.17,0.18,0.19,0.21,0.22,0.23,0.24],"tickSize":-6,"labels":false,"title":null}},
    "angle":{"field":"ang","type":"quantitative","scale":null}}}
 ]}]}
]
}
